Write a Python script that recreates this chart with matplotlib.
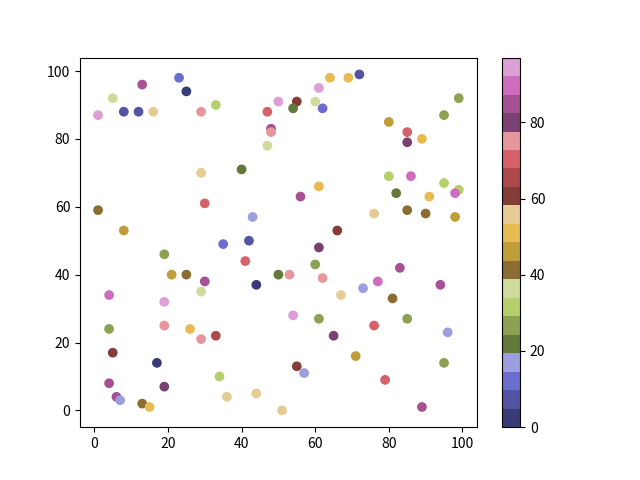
import matplotlib.pyplot as plt

plt.rcParams['font.family'] = ['Noto Sans CJK SC', 'DejaVu Sans']

# point positions
x = [1, 5, 8, 12, 13, 16, 23, 25, 29, 33, 29, 30, 1, 8, 64, 69, 61, 50, 55, 54,
     60, 62, 47, 48, 48, 47, 40, 61, 56, 43, 66, 35, 42, 61, 72, 99, 95, 80, 85, 89,
     85, 80, 86, 95, 99, 98, 82, 91, 76, 85, 90, 98, 19, 21, 25, 30, 29, 4, 19, 4,
     19, 26, 29, 33, 5, 17, 4, 19, 6, 7, 13, 15, 34, 41, 60, 50, 53, 62, 44, 67,
     54, 61, 65, 55, 57, 36, 44, 51, 83, 77, 73, 94, 81, 85, 76, 96, 71, 95, 79, 89]
y = [87, 92, 88, 88, 96, 88, 98, 94, 88, 90, 70, 61, 59, 53, 98, 98, 95, 91, 91, 89,
     91, 89, 88, 83, 82, 78, 71, 66, 63, 57, 53, 49, 50, 48, 99, 92, 87, 85, 82, 80,
     79, 69, 69, 67, 65, 64, 64, 63, 58, 59, 58, 57, 46, 40, 40, 38, 35, 34, 32, 24,
     25, 24, 21, 22, 17, 14, 8, 7, 4, 3, 2, 1, 10, 44, 43, 40, 40, 39, 37, 34,
     28, 27, 22, 13, 11, 4, 5, 0, 42, 38, 36, 37, 33, 27, 25, 23, 16, 14, 9, 1]
# colour values (estimated from the tab20b colour of each point)
c = [96, 36, 7, 7, 85, 56, 12, 2, 75, 31, 56, 70, 41, 46, 51, 51, 96, 96, 61, 22,
     36, 12, 70, 85, 75, 36, 22, 51, 85, 17, 61, 12, 7, 80, 7, 27, 27, 46, 70, 51,
     80, 31, 90, 31, 31, 90, 22, 51, 56, 41, 41, 46, 27, 46, 41, 85, 36, 90, 97, 27,
     75, 51, 75, 65, 61, 2, 85, 80, 85, 17, 41, 51, 31, 70, 27, 22, 75, 75, 2, 56,
     96, 27, 80, 61, 17, 56, 56, 56, 85, 90, 17, 85, 41, 27, 70, 17, 46, 27, 70, 85]

fig, ax = plt.subplots(figsize=(6.4, 4.8), dpi=100)
sc = ax.scatter(x, y, c=c, cmap='tab20b', vmin=0, vmax=97)
fig.colorbar(sc, ax=ax)
plt.savefig('out.png')
